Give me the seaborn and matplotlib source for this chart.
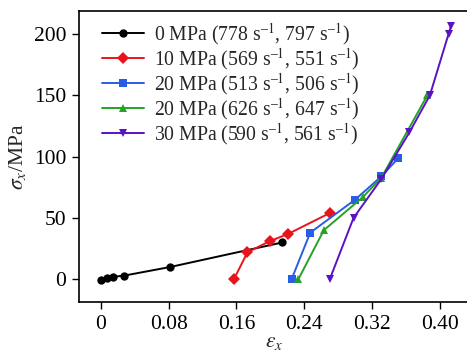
import pandas as pd
import numpy as np
import matplotlib
matplotlib.use('Agg')
import matplotlib.pyplot as plt
import seaborn as sns

# series (strain, stress in MPa)
labels = ['0 MPa (778 s$^{\u2013 1}$, 797 s$^{\u2013 1}$)',
          '10 MPa (569 s$^{\u2013 1}$, 551 s$^{\u2013 1}$)',
          '20 MPa (513 s$^{\u2013 1}$, 506 s$^{\u2013 1}$)',
          '20 MPa (626 s$^{\u2013 1}$, 647 s$^{\u2013 1}$)',
          '30 MPa (590 s$^{\u2013 1}$, 561 s$^{\u2013 1}$)']

x0 = [0.0, 0.007, 0.015, 0.028, 0.082, 0.214]
y0 = [-1, 1, 2, 3, 10, 30]
x10 = [0.157, 0.173, 0.199, 0.221, 0.270]
y10 = [0, 22, 31, 37, 54]
x20a = [0.225, 0.247, 0.300, 0.331, 0.351]
y20a = [0, 38, 65, 84, 99]
x20b = [0.233, 0.263, 0.309, 0.331, 0.385]
y20b = [0, 40, 67, 83, 150]
x30 = [0.270, 0.298, 0.331, 0.364, 0.388, 0.410, 0.413]
y30 = [0, 50, 82, 120, 150, 200, 207]

xs = [x0, x10, x20a, x20b, x30]
ys = [y0, y10, y20a, y20b, y30]

colors = ['#000000', '#e8141c', '#2a5ce6', '#26a226', '#5a12c4']
markers = ['o', 'D', 's', '^', 'v']

rows = []
for lab, xx, yy in zip(labels, xs, ys):
    for i, (a, b) in enumerate(zip(xx, yy)):
        rows.append({'strain': a, 'stress': b, 'series': lab, 'idx': i})
df = pd.DataFrame(rows)

sns.set_style('ticks')
plt.rcParams['font.family'] = ['Liberation Serif', 'DejaVu Serif']
plt.rcParams['mathtext.fontset'] = 'stix'

fig = plt.figure(figsize=(4.67, 3.5), dpi=100)
ax = fig.add_axes([0.169, 0.136, 0.835, 0.833])

sns.lineplot(data=df, x='strain', y='stress', hue='series', style='series',
             hue_order=labels, style_order=labels,
             palette=colors, markers=markers, dashes=False,
             sort=False, estimator=None, units='series',
             markersize=6, markeredgewidth=0, linewidth=1.4, ax=ax)

ax.set_xlim(-0.0257, 0.434)
ax.set_ylim(-18.9, 219)
ax.set_xticks([0, 0.08, 0.16, 0.24, 0.32, 0.40])
ax.set_xticklabels(['0', '0.08', '0.16', '0.24', '0.32', '0.40'])
ax.set_yticks([0, 50, 100, 150, 200])
ax.tick_params(labelsize=15.5, direction='out', length=5, width=1, colors='black', pad=4)
for s in ['left', 'bottom', 'top']:
    ax.spines[s].set_linewidth(1.2)
    ax.spines[s].set_color('black')
ax.spines['right'].set_visible(False)

ax.set_xlabel(r'$\varepsilon_x$', fontsize=15.5, labelpad=-1)
ax.set_ylabel(r'$\sigma_x$/MPa', fontsize=15.5, labelpad=4)

leg = ax.legend(loc='upper left', bbox_to_anchor=(0.03, 1.005), frameon=False,
                fontsize=14.2, handlelength=2.1, handletextpad=0.5,
                labelspacing=-0.05, borderaxespad=0.2)

fig.savefig('out.png', dpi=100)
